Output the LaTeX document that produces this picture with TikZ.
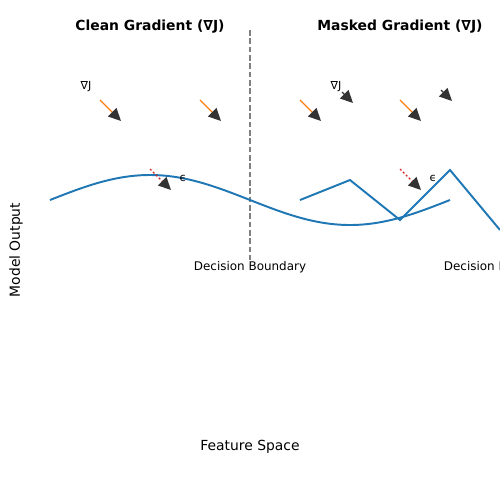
\documentclass[tikz,border=0pt]{standalone}
\usepackage{fontspec}
\setmainfont{DejaVu Sans}
\usetikzlibrary{arrows.meta}

\definecolor{curveblue}{HTML}{1F77B4}
\definecolor{gradorange}{HTML}{FF7F0E}
\definecolor{noisered}{HTML}{D62728}
\definecolor{headgray}{HTML}{333333}

\begin{document}
\begin{tikzpicture}[x=0.72pt,y=-0.72pt,
    title/.style={font=\bfseries\fontsize{10}{12}\selectfont},
    axislabel/.style={font=\fontsize{10}{12}\selectfont},
    smalllabel/.style={font=\fontsize{8}{10}\selectfont},
    boundlabel/.style={font=\fontsize{8.6}{10}\selectfont},
    gradarrow/.style={gradorange,line width=1pt,-{Triangle[length=9pt,width=8.5pt,color=headgray]}},
    noisearrow/.style={noisered,line width=1pt,dash pattern=on 1.5pt off 1.5pt,-{Triangle[length=9pt,width=8.5pt,color=headgray]}},
    headonly/.style={headgray,line width=1pt,-{Triangle[length=9pt,width=8.5pt,color=headgray]}},
    curve/.style={curveblue,line width=1.4pt}]
    \useasboundingbox (0,0) rectangle (500,500);

    % titles and axis labels
    \node[title] (cleantitle) at (150,27) {Clean Gradient (∇J)};
    \node[title] (maskedtitle) at (400,27) {Masked Gradient (∇J)};
    \node[axislabel,rotate=90] (ylabel) at (16,250) {Model Output};
    \node[axislabel] (xlabel) at (250,447) {Feature Space};

    % decision boundary
    \draw[gray,line width=1.2pt,dash pattern=on 4pt off 2pt] (250,30) -- (250,260);
    \node[boundlabel] (boundleft) at (250,267) {Decision Boundary};
    \node[boundlabel,anchor=west] (boundright) at (439,267) {Decision Boundary};

    % smooth surface
    \draw[curve,domain=50:450,samples=80,smooth] plot (\x,{200-25*sin(0.9*(\x-50))});
    % masked (jagged) surface
    \draw[curve] (300,200) -- (350,180) -- (400,220) -- (450,170) -- (500,230);

    % gradient arrows
    \draw[gradarrow] (100,100) -- (121,121);
    \draw[gradarrow] (200,100) -- (221,121);
    \draw[gradarrow] (300,100) -- (321,121);
    \draw[gradarrow] (400,100) -- (421,121);
    \draw[headonly] (342,92) -- (353,103);
    \draw[headonly] (441,90) -- (452,101);
    \node[smalllabel] (gradleft) at (86,87) {∇J};
    \node[smalllabel] (gradright) at (336,87) {∇J};

    % perturbations
    \draw[noisearrow] (150,169) -- (171,190);
    \draw[noisearrow] (400,169) -- (421,190);
    \node[smalllabel] (epsleft) at (183,178) {ϵ};
    \node[smalllabel] (epsright) at (433,178) {ϵ};
\end{tikzpicture}
\end{document}
